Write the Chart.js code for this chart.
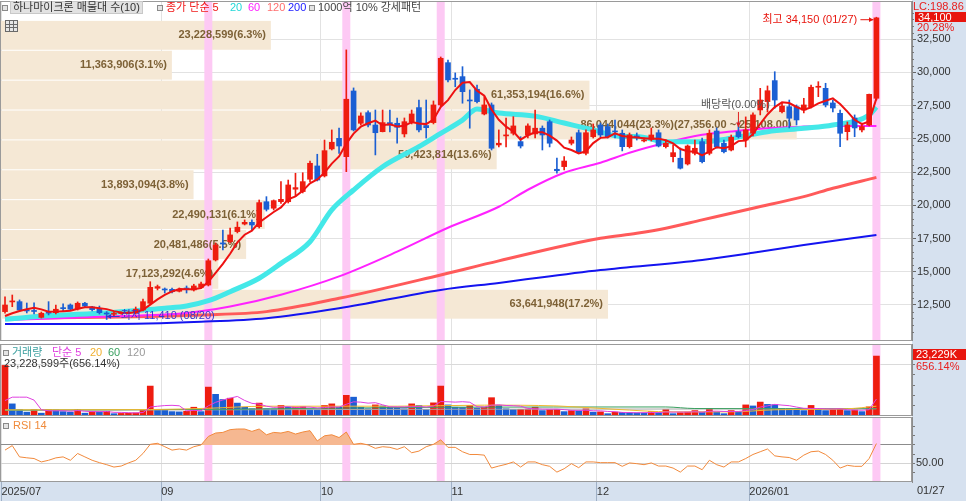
<!DOCTYPE html>
<html lang="ko">
<head>
<meta charset="utf-8">
<title>하나마이크론</title>
<script src="https://cdn.jsdelivr.net/npm/chart.js@4.4.1/dist/chart.umd.min.js"></script>
<style>
  html, body { margin: 0; padding: 0; }
  body { width: 966px; height: 501px; position: relative; overflow: hidden; background: #d6e1ef; }
  #plotbg { position: absolute; left: 0; top: 0; width: 912px; height: 482px; background: #fff; }
  canvas { position: absolute; left: 0; }
  .t { position: absolute; white-space: nowrap; font-size: 11px; line-height: 13px; font-family: 'Liberation Sans', 'Noto Sans CJK KR', sans-serif; color: #333; }
  .sq { position: absolute; width: 4px; height: 4px; border: 1px solid #8a8a8a; background: #e4e4e4; }
  .box { position: absolute; color: #fff; font-size: 11px; line-height: 10px; font-family: 'Liberation Sans', sans-serif; padding-left: 3px; }
  #tbl { position: absolute; left: 5px; top: 20px; width: 11px; height: 10px; border: 1px solid #6a6a6a;
         background: linear-gradient(#6a6a6a, #6a6a6a) 0 3px / 100% 1px no-repeat, linear-gradient(#6a6a6a, #6a6a6a) 0 6px / 100% 1px no-repeat,
                     linear-gradient(#6a6a6a, #6a6a6a) 3px 0 / 1px 100% no-repeat, linear-gradient(#6a6a6a, #6a6a6a) 7px 0 / 1px 100% no-repeat, #e6e6e6; }
</style>
</head>
<body>
<div id="plotbg"></div>
<canvas id="cPrice" width="966" height="340" style="top:1px"></canvas>
<canvas id="cVol" width="966" height="72" style="top:344px"></canvas>
<canvas id="cRsi" width="966" height="84" style="top:417px"></canvas>

<!-- legenda do painel de preço -->
<div class="sq" style="left:2px;top:5px"></div>
<div class="t" style="left:10px;top:1px;padding:0 2px;background:#e2e2e2;border:1px solid #c8c8c8;line-height:11px">하나마이크론 매물대 수(10)</div>
<div class="sq" style="left:157px;top:5px"></div>
<div class="t" style="left:166px;top:1px;color:#f01818">종가 단순 5</div>
<div class="t" style="left:230px;top:1px;color:#22d8d8">20</div>
<div class="t" style="left:248px;top:1px;color:#ff22ff">60</div>
<div class="t" style="left:267px;top:1px;color:#ff6e6e">120</div>
<div class="t" style="left:288px;top:1px;color:#2020ff">200</div>
<div class="sq" style="left:309px;top:5px"></div>
<div class="t" style="left:318px;top:1px;color:#444">1000억 10% 강세패턴</div>
<div id="tbl"></div>

<!-- legenda volume / rsi -->
<div class="sq" style="left:3px;top:350px"></div>
<div class="t" style="left:12px;top:346px;color:#3a9e9e">거래량</div>
<div class="t" style="left:52px;top:346px;color:#e040e0">단순 5</div>
<div class="t" style="left:90px;top:346px;color:#f0b030">20</div>
<div class="t" style="left:108px;top:346px;color:#3aa060">60</div>
<div class="t" style="left:127px;top:346px;color:#999">120</div>
<div class="t" id="volInfo" style="left:4px;top:357px;color:#333"></div>
<div class="sq" style="left:3px;top:423px"></div>
<div class="t" style="left:13px;top:419px;color:#f08a3a">RSI 14</div>

<!-- eixo direito -->
<div class="t" style="left:913px;top:0px;color:#e82020">LC:198.86</div>
<div class="box" id="lastBox" style="left:915px;width:48px;height:10px;background:#e8150e"></div>
<div class="t" id="lastPct" style="left:917px;color:#e82020"></div>
<div class="box" id="volBox" style="left:913px;top:349px;width:50px;height:11px;line-height:11px;background:#e8150e"></div>
<div class="t" id="volPct" style="left:916px;top:360px;color:#e82020"></div>
<div class="t" id="lastDate" style="left:917px;top:484px;color:#333"></div>

<script>
// ===== dados =====
const dates = [
  '2025/07/30','2025/07/31',
  '2025/08/01','2025/08/04','2025/08/05','2025/08/06','2025/08/07','2025/08/08','2025/08/11','2025/08/12','2025/08/13','2025/08/14',
  '2025/08/18','2025/08/19','2025/08/20','2025/08/21','2025/08/22','2025/08/25','2025/08/26','2025/08/27','2025/08/28','2025/08/29',
  '2025/09/01','2025/09/02','2025/09/03','2025/09/04','2025/09/05','2025/09/08','2025/09/09','2025/09/10','2025/09/11','2025/09/12',
  '2025/09/15','2025/09/16','2025/09/17','2025/09/18','2025/09/19','2025/09/22','2025/09/23','2025/09/24','2025/09/25','2025/09/26',
  '2025/09/29','2025/09/30',
  '2025/10/01','2025/10/02','2025/10/10','2025/10/13','2025/10/14','2025/10/15','2025/10/16','2025/10/17','2025/10/20','2025/10/21',
  '2025/10/22','2025/10/23','2025/10/24','2025/10/27','2025/10/28','2025/10/29','2025/10/30','2025/10/31',
  '2025/11/03','2025/11/04','2025/11/05','2025/11/06','2025/11/07','2025/11/10','2025/11/11','2025/11/12','2025/11/13','2025/11/14',
  '2025/11/17','2025/11/18','2025/11/19','2025/11/20','2025/11/21','2025/11/24','2025/11/25','2025/11/26','2025/11/27','2025/11/28',
  '2025/12/01','2025/12/02','2025/12/03','2025/12/04','2025/12/05','2025/12/08','2025/12/09','2025/12/10','2025/12/11','2025/12/12',
  '2025/12/15','2025/12/16','2025/12/17','2025/12/18','2025/12/19','2025/12/22','2025/12/23','2025/12/24','2025/12/26','2025/12/29',
  '2025/12/30',
  '2026/01/02','2026/01/05','2026/01/06','2026/01/07','2026/01/08','2026/01/09','2026/01/12','2026/01/13','2026/01/14','2026/01/15',
  '2026/01/16','2026/01/19','2026/01/20','2026/01/21','2026/01/22','2026/01/23','2026/01/26','2026/01/27'
];

const open = [
  12000,12730,12750,12120,12090,11570,12000,11920,12300,12500,
  12200,12630,12350,12180,11900,11800,11850,11880,11920,12120,
  12630,13760,13700,13680,13530,13760,13630,13830,14000,15890,
  17170,17260,18020,18590,18720,18390,20270,19780,20270,20270,
  21210,21030,21960,22960,22210,24240,25040,23660,28600,26170,
  26970,26040,25540,26220,26170,25370,26290,27350,26000,26220,
  27550,30730,29560,29680,27920,28730,26870,27550,24540,25220,
  25420,24790,25290,25370,25800,26290,22710,22910,24670,25460,
  23910,25160,26040,25920,25540,25420,24410,25220,24840,24970,
  25460,24410,23660,23540,23110,23910,24790,23910,25590,24670,
  24160,25540,24910,25420,27170,27800,29380,27040,27420,27420,
  27170,27420,28880,28800,27700,26920,25540,26570,25670,26040,
  28050
];
const high = [
  13120,13250,12880,12650,12670,11970,12750,12500,12580,12580,
  12730,12700,12400,12420,12000,11950,11980,12050,12350,12950,
  14250,14000,13780,13780,13780,13930,14060,14230,15960,17170,
  18140,18290,18750,18900,18900,20400,20650,20400,21780,21900,
  22410,22450,23330,23840,24910,25670,25800,31690,28830,26950,
  27100,27170,27170,27170,26570,26570,27170,27920,27920,27850,
  31160,30930,29960,30430,28680,29050,28170,27700,25670,26570,
  26670,25160,26120,27170,25970,26420,23560,23660,25140,25670,
  25670,26120,26190,26120,26420,25670,25440,25440,25060,25820,
  25670,24910,24540,24310,24540,24910,25060,25670,25820,24910,
  25290,26270,26650,26950,28800,28980,30050,27700,27920,27550,
  28050,29050,29300,29180,27920,27170,26270,26800,26190,28370,
  34150
];
const low = [
  11880,12370,12050,11900,11820,11520,11750,11820,12000,12120,
  12120,12350,12050,11820,11410,11700,11800,11850,11820,12050,
  12580,13630,13400,13400,13480,13400,13550,13780,13930,15810,
  16640,17170,17920,18520,18140,18290,19570,19650,20150,20170,
  20650,20930,21780,21830,22130,24160,23910,22530,25590,26040,
  25890,23790,25520,25520,24670,25140,26120,25520,25060,26120,
  27470,29280,28920,27680,25800,27700,26800,24160,24390,24390,
  25290,24310,25060,25060,24160,24390,22410,22660,24540,23940,
  23790,25060,25140,25060,25060,24090,24310,24910,24760,24840,
  24390,24310,23260,22730,23030,23790,23180,23790,24310,23940,
  24090,25060,24390,25220,26800,27020,27300,26950,25820,26040,
  26950,27320,28170,27400,27020,24410,24910,25160,25520,25970,
  27920
];
const close = [
  12500,12800,12120,12050,12010,11880,11880,12180,12220,12180,
  12630,12420,12150,11920,11820,11880,11900,11950,12180,12750,
  13830,13880,13630,13500,13680,13700,13930,14080,15830,17010,
  17090,17770,18350,18720,18520,20200,19700,20350,20450,21530,
  21330,21780,23160,21900,24110,24740,24460,27980,25670,26720,
  26040,25460,26220,26040,25870,26290,26870,25670,25840,27550,
  31060,29430,29480,28550,27850,27800,27550,24290,24670,25290,
  25970,24460,25970,25800,25290,24670,22600,23330,24910,24030,
  25460,25670,25290,25160,25520,24410,25290,25120,24910,25290,
  24460,24670,23960,22790,24460,24290,23280,25420,24410,24030,
  25120,25160,25670,26800,27920,28620,27920,27470,26550,26420,
  27550,28880,28930,27550,27320,25420,26040,25820,25920,28350,
  34100
];
const volume = [
  19600000,4700000,2500000,1500000,2500000,1100000,2500000,2400000,1700000,1500000,
  2500000,1100000,1700000,1600000,1800000,900000,1000000,1100000,1200000,2500000,
  11600000,2500000,2400000,1700000,1600000,1800000,3400000,1700000,11200000,8400000,
  6400000,6900000,5000000,3400000,2800000,5000000,2800000,2700000,4100000,3400000,
  3500000,3600000,2600000,2500000,4100000,4700000,3400000,8000000,7300000,3400000,
  2800000,4300000,3900000,3400000,3300000,2800000,4700000,4100000,2500000,5100000,
  11600000,4300000,3400000,3300000,4100000,3000000,3400000,7100000,4100000,2800000,
  2500000,2600000,2700000,3400000,2100000,2500000,2600000,1700000,2100000,2000000,
  2800000,1500000,1600000,900000,1500000,1400000,1300000,1200000,1100000,1700000,
  1300000,2500000,900000,1300000,1500000,2100000,1500000,2800000,1500000,900000,
  2100000,1500000,4300000,3900000,5400000,4500000,4400000,2900000,2800000,2700000,
  2100000,4100000,2800000,2100000,2500000,2600000,2100000,2300000,1700000,3540190,
  23228599
];
const rsi = [
  64.4,69.3,57.0,56.0,55.2,51.5,53.3,55.9,57.0,53.3,
  60.7,57.0,53.3,50.7,48.5,45.9,47.0,50.4,53.3,60.7,
  70.7,71.8,68.1,64.4,65.6,64.4,68.1,70.0,79.3,83.0,
  83.7,86.7,87.4,87.4,84.8,87.4,81.1,83.7,83.0,84.8,
  81.9,84.1,85.6,74.4,80.0,81.1,78.1,84.1,70.7,71.8,
  70.0,66.3,68.1,67.4,65.2,68.1,61.5,63.3,68.1,70.7,
  75.6,67.4,67.4,62.6,59.6,59.6,58.9,44.8,47.0,48.9,
  51.5,45.9,51.5,51.5,48.5,46.7,40.4,44.1,49.6,45.2,
  51.5,51.5,50.7,50.7,50.7,46.7,50.4,49.6,48.5,50.4,
  47.0,47.0,44.8,40.4,47.0,47.0,43.0,53.3,48.5,45.9,
  51.5,51.5,55.2,59.6,62.6,65.6,58.1,57.0,56.3,53.3,
  58.9,62.6,63.3,59.6,53.3,44.8,47.8,46.7,46.7,55.2,
  71.5
];

const ma5Head = [11670, 11880, 12050, 12180];
const ma20Idx = [0,4,13,19,22,25,28,31,35,38,42,45,48,52,57,60,63,65,68,73,77,81,85,87,91,96,100,105,110,114,119,120];
const ma20Val = [11420,11620,11870,12120,12250,12420,12820,13500,14510,15630,17260,19650,21150,22900,24410,25410,26410,27240,26940,26710,26190,25670,25170,25170,24790,24790,25040,25540,25790,26040,26790,27390];
const ma60Idx = [0,13,25,31,38,46,54,61,68,72,77,82,86,91,96,100,105,110,114,120];
const ma60Val = [11370,11620,11900,12380,13270,14650,16510,18310,19890,21170,22450,23200,23950,24700,25300,25550,25800,25920,25970,25970];
const ma120Idx = [0,13,27,36,46,60,68,82,87,91,96,103,110,114,120];
const ma120Val = [11500,11570,11750,12000,13000,14760,15820,17520,17890,18270,18900,19780,20650,21280,22100];
const ma200Idx = [0,14,27,36,46,60,68,82,96,103,110,120];
const ma200Val = [11070,11070,11240,11500,12250,13630,14160,15130,15890,16430,17010,17770];

const volMa5Head = [6000000, 7300000, 7300000, 7300000];
const volMa20Idx = [0,20,28,36,54,66,76,84,92,100,106,116,120];
const volMa20Val = [2400000,2500000,3000000,3800000,3800000,4200000,3900000,2600000,1600000,1600000,2400000,2800000,3800000];
const volMa60Idx = [0,30,60,91,95,120];
const volMa60Val = [2300000,2600000,3400000,3500000,2900000,2800000];
const volMa120Idx = [0,60,120];
const volMa120Val = [2200000,2600000,2800000];

// 매물대 (10 faixas)
const bandLow  = [11620,13868,16116,18364,20612,22860,25108,27356,29604,31852];
const bandHigh = [13868,16116,18364,20612,22860,25108,27356,29604,31852,34100];
const bandVol  = [63641948,17123292,20481486,22490131,13893094,50423814,86044044,61353194,11363906,23228599];
const bandPct  = [17.2,4.6,5.5,6.1,3.8,13.6,23.3,16.6,3.1,6.3];

const signalIdx = [28, 47, 60, 120];   // 강세패턴
const divIdx = 101;                    // 배당락
const priceTicks = [12500,15000,17500,20000,22500,25000,27500,30000,32500];
const volTicks = [4000000,8000000,12000000,16000000,20000000,24000000];
const rsiTicks = [40,50,60,70,80,90];

// ===== config =====
Chart.defaults.font.family = "'Liberation Sans', Arial, sans-serif";
Chart.defaults.font.size = 11;
Chart.defaults.color = '#333';

const UP = '#ee1c10', DOWN = '#1b5fd3';
const X_MIN = -0.69, X_MAX = 124.9;
const fmt = v => v.toLocaleString('en-US');
const avg = a => a.reduce((s, v) => s + v, 0) / a.length;
const sparse = (idx, val) => idx.map((x, k) => ({ x, y: val[k] }));
const baseLayout = { padding: 0, autoPadding: false };

// sem padding automático de rótulos: a área de plotagem ocupa o canvas todo
function noPad(s) { s.paddingTop = 0; s.paddingBottom = 0; s.paddingLeft = 0; s.paddingRight = 0; }

// ticks mensais (pula meses colados, como o 08)
const monthTicks = [];
dates.forEach((d, i) => {
  if (i > 0 && d.slice(0, 7) === dates[i - 1].slice(0, 7)) return;
  const prev = monthTicks[monthTicks.length - 1];
  if (prev !== undefined && i - prev < 8) return;
  monthTicks.push(i);
});
function monthLabel(v) {
  const i = Math.round(v + 0.5);
  const k = monthTicks.indexOf(i);
  if (k < 0) return '';
  const d = dates[i];
  if (k === 0 || d.slice(0, 4) !== dates[monthTicks[k - 1]].slice(0, 4)) return d.slice(0, 7);
  return d.slice(5, 7);
}

function xAxis(showLabels) {
  return {
    type: 'linear', min: X_MIN, max: X_MAX, offset: false,
    afterBuildTicks: s => { s.ticks = monthTicks.map(i => ({ value: i - 0.5 })); },
    afterFit: s => { s.height = showLabels ? 19 : 0; noPad(s); },
    grid: { offset: false, color: '#e2e2e2', drawTicks: showLabels, tickLength: 19, tickColor: '#9fb0c6' },
    border: { display: false },
    ticks: { display: showLabels, align: 'start', padding: -16, autoSkip: false, maxRotation: 0, color: '#333', callback: monthLabel }
  };
}

function drawArrow(c, x1, y1, x2, y2, color) {
  const a = Math.atan2(y2 - y1, x2 - x1);
  c.save();
  c.strokeStyle = color; c.fillStyle = color; c.lineWidth = 1;
  c.beginPath(); c.moveTo(x1, y1); c.lineTo(x2, y2); c.stroke();
  c.beginPath();
  c.moveTo(x2, y2);
  c.lineTo(x2 - 5 * Math.cos(a - 0.5), y2 - 5 * Math.sin(a - 0.5));
  c.lineTo(x2 - 5 * Math.cos(a + 0.5), y2 - 5 * Math.sin(a + 0.5));
  c.closePath(); c.fill();
  c.restore();
}

function drawSignals(chart) {
  const a = chart.chartArea, c = chart.ctx, xs = chart.scales.x;
  c.save();
  c.fillStyle = '#fdc9f4';
  signalIdx.forEach(i => c.fillRect(xs.getPixelForValue(i) - 4, a.top, 8, a.height));
  c.restore();
}

function panel(hooks) {
  return {
    id: 'panel',
    beforeDraw(chart) {
      const a = chart.chartArea, c = chart.ctx;
      c.save(); c.fillStyle = '#fff'; c.fillRect(a.left, a.top, a.width, a.height); c.restore();
    },
    beforeDatasetsDraw(chart) {
      if (hooks.under) hooks.under(chart);
      drawSignals(chart);
      if (hooks.over) hooks.over(chart);
    },
    afterDatasetsDraw(chart) { if (hooks.after) hooks.after(chart); },
    afterDraw(chart) {
      const a = chart.chartArea, c = chart.ctx;
      c.save(); c.strokeStyle = '#9a9a9a'; c.lineWidth = 1;
      c.strokeRect(Math.round(a.left) + 0.5, Math.round(a.top) + 0.5, Math.round(a.width) - 1, Math.round(a.height) - 1);
      if (hooks.end) hooks.end(chart);
      c.restore();
    }
  };
}

// ===== painel de preço =====
const candleColor = close.map((v, i) => v >= open[i] ? UP : DOWN);
const ma5 = close.map((v, i) => ({ x: i, y: i < 4 ? ma5Head[i] : avg(close.slice(i - 4, i + 1)) }));
const maxBand = bandVol.indexOf(Math.max(...bandVol));

function lineDs(data, color, width, order) {
  return { type: 'line', data, borderColor: color, borderWidth: width, pointRadius: 0, fill: false,
           cubicInterpolationMode: 'monotone', order, xAxisID: 'x', yAxisID: 'y' };
}

const pricePlugin = panel({
  under(chart) {
    const a = chart.chartArea, c = chart.ctx, ys = chart.scales.y, xv = chart.scales.xv;
    c.save();
    c.fillStyle = '#f5e8d5';
    bandLow.forEach((lo, k) => {
      const top = ys.getPixelForValue(bandHigh[k]) + 3;
      const bot = ys.getPixelForValue(lo) + 2;
      c.fillRect(a.left, top, xv.getPixelForValue(bandPct[k]) - a.left, bot - top);
    });
    c.restore();
  },
  over(chart) {
    const c = chart.ctx, ys = chart.scales.y, xv = chart.scales.xv;
    c.save();
    c.font = "bold 11px 'Liberation Sans', Arial, sans-serif";
    c.fillStyle = '#7d6136';
    c.textAlign = 'right'; c.textBaseline = 'middle';
    bandLow.forEach((lo, k) => {
      let txt = fmt(bandVol[k]) + '(' + bandPct[k].toFixed(1) + '%)';
      if (k === maxBand) {
        const f2 = v => v.toLocaleString('en-US', { minimumFractionDigits: 2 });
        txt += '(' + f2(bandHigh[k]) + ' ~ ' + f2(lo) + ')';
      }
      const yMid = (ys.getPixelForValue(bandHigh[k]) + ys.getPixelForValue(lo)) / 2 + 2.5;
      c.fillText(txt, xv.getPixelForValue(bandPct[k]) - 5, yMid);
    });
    c.restore();
  },
  after(chart) {
    const xs = chart.scales.x, ys = chart.scales.y, c = chart.ctx;
    const hi = high.indexOf(Math.max(...high)), lo = low.indexOf(Math.min(...low));
    const hx = xs.getPixelForValue(hi) - 3, hy = ys.getPixelForValue(high[hi]) + 2.5;
    drawArrow(c, hx - 13, hy, hx, hy, '#e8150e');
    const lx = xs.getPixelForValue(lo), ly = ys.getPixelForValue(low[lo]) - 3;
    drawArrow(c, lx + 13, ly, lx, ly, '#3535d0');
    const dx = xs.getPixelForValue(divIdx), dy = ys.getPixelForValue(high[divIdx]) + 5;
    drawArrow(c, dx, dy - 15, dx, dy, '#e02020');
  },
  end(chart) {
    const a = chart.chartArea, c = chart.ctx, ys = chart.scales.y;
    c.strokeStyle = '#777';
    c.beginPath();
    for (let v = 10000; v <= 35000; v += 500) {
      if (v % 2500 === 0) continue;
      const y = Math.round(ys.getPixelForValue(v)) + 0.5;
      c.moveTo(a.right, y); c.lineTo(a.right + 2, y);
    }
    c.stroke();
  }
});

const priceChart = new Chart(document.getElementById('cPrice'), {
  type: 'bar',
  data: {
    datasets: [
      lineDs(sparse(ma200Idx, ma200Val), '#1414f0', 2, 6),
      lineDs(sparse(ma120Idx, ma120Val), '#ff5a5a', 3, 5),
      lineDs(sparse(ma60Idx, ma60Val), '#ff22ff', 2, 4),
      lineDs(sparse(ma20Idx, ma20Val), '#44e8e8', 5, 3),
      { type: 'bar', data: low.map((v, i) => ({ x: i, y: [v, high[i]] })), backgroundColor: candleColor,
        barThickness: 1, grouped: false, order: 2, xAxisID: 'x', yAxisID: 'y' },
      { type: 'bar', data: open.map((v, i) => ({ x: i, y: [v, close[i]] })), backgroundColor: candleColor,
        barThickness: 5, minBarLength: 1, grouped: false, order: 1, xAxisID: 'x', yAxisID: 'y' },
      Object.assign(lineDs(ma5, '#ee1111', 2, 0), { cubicInterpolationMode: 'default', tension: 0 })
    ]
  },
  options: {
    responsive: false, animation: false, events: [],
    layout: baseLayout,
    plugins: { legend: { display: false }, tooltip: { enabled: false } },
    scales: {
      x: xAxis(false),
      xv: { type: 'linear', display: false, min: 0, max: 24.57 },
      y: {
        position: 'right', min: 9790, max: 35370,
        afterBuildTicks: s => { s.ticks = priceTicks.map(v => ({ value: v })); },
        afterFit: s => { s.width = 54; noPad(s); },
        grid: { color: '#e2e2e2', tickLength: 4, tickColor: '#666' },
        border: { color: '#8c8c8c' },
        ticks: { padding: 1, autoSkip: false, color: '#333', callback: v => fmt(v) }
      }
    }
  },
  plugins: [pricePlugin]
});

// ===== painel de volume =====
const volColor = volume.map((v, i) => i > 0 && v > volume[i - 1] ? UP : (i === 0 ? UP : DOWN));
const volMa5 = volume.map((v, i) => ({ x: i, y: i < 4 ? volMa5Head[i] : avg(volume.slice(i - 4, i + 1)) }));
function volLine(data, color) {
  return { type: 'line', data, borderColor: color, borderWidth: 1, pointRadius: 0, fill: false, cubicInterpolationMode: 'monotone' };
}
new Chart(document.getElementById('cVol'), {
  type: 'bar',
  data: {
    datasets: [
      Object.assign(volLine(volMa5, '#e040e0'), { order: 0, cubicInterpolationMode: 'default', tension: 0 }),
      Object.assign(volLine(sparse(volMa20Idx, volMa20Val), '#f0b830'), { order: 1 }),
      Object.assign(volLine(sparse(volMa60Idx, volMa60Val), '#3aa060'), { order: 2 }),
      Object.assign(volLine(sparse(volMa120Idx, volMa120Val), '#a8a8a8'), { order: 3 }),
      { type: 'bar', data: volume.map((v, i) => ({ x: i, y: v })), backgroundColor: volColor, barThickness: 6, order: 4 }
    ]
  },
  options: {
    responsive: false, animation: false, events: [],
    layout: baseLayout,
    plugins: { legend: { display: false }, tooltip: { enabled: false } },
    scales: {
      x: xAxis(false),
      y: {
        position: 'right', min: 0, max: 27900000,
        afterBuildTicks: s => { s.ticks = volTicks.map(v => ({ value: v })); },
        afterFit: s => { s.width = 54; noPad(s); },
        grid: { color: c => (c.tick && c.tick.value === 20000000) ? '#dadada' : 'rgba(0,0,0,0)', tickLength: 3, tickColor: '#777' },
        border: { color: '#8c8c8c' },
        ticks: { autoSkip: false, callback: () => '' }
      }
    }
  },
  plugins: [panel({})]
});

// ===== painel RSI =====
new Chart(document.getElementById('cRsi'), {
  type: 'line',
  data: {
    datasets: [{
      data: rsi.map((v, i) => ({ x: i, y: v })),
      borderColor: '#f28a3c', borderWidth: 1, pointRadius: 0, tension: 0,
      fill: { target: { value: 70 }, above: '#f6b891', below: 'rgba(0,0,0,0)' }
    }]
  },
  options: {
    responsive: false, animation: false, events: [],
    layout: baseLayout,
    plugins: { legend: { display: false }, tooltip: { enabled: false } },
    scales: {
      x: xAxis(true),
      y: {
        position: 'right', min: 29.6, max: 100.5,
        afterBuildTicks: s => { s.ticks = rsiTicks.map(v => ({ value: v })); },
        afterFit: s => { s.width = 54; noPad(s); },
        grid: { color: c => c.tick && c.tick.value === 70 ? '#8c8c8c' : (c.tick && c.tick.value === 50 ? '#d4d4d4' : 'rgba(0,0,0,0)'),
                tickLength: 3, tickColor: '#777' },
        border: { color: '#8c8c8c' },
        ticks: { padding: 1, autoSkip: false, color: '#333', callback: v => v === 50 ? v.toFixed(2) : '' }
      }
    }
  },
  plugins: [panel({})]
});

// ===== textos posicionados pela escala =====
function note(text, color, x, yMid, align) {
  const el = document.createElement('div');
  el.className = 't';
  el.textContent = text;
  el.style.color = color;
  document.body.appendChild(el);
  const w = el.offsetWidth;
  const left = align === 'right' ? x - w : align === 'center' ? x - w / 2 : x;
  el.style.left = left + 'px';
  el.style.top = (yMid - 7) + 'px';
}
const PX = priceChart.scales.x, PY = priceChart.scales.y, TOP = 1;
const hiIdx = high.indexOf(Math.max(...high));
const loIdx = low.indexOf(Math.min(...low));
const last = close.length - 1;
note('최고 ' + fmt(high[hiIdx]) + ' (' + dates[hiIdx].slice(5) + ')', '#e8150e',
     PX.getPixelForValue(hiIdx) - 19, PY.getPixelForValue(high[hiIdx]) + TOP + 2.5, 'right');
note('최저 ' + fmt(low[loIdx]) + ' (' + dates[loIdx].slice(5) + ')', '#3535d0',
     PX.getPixelForValue(loIdx) + 14, PY.getPixelForValue(low[loIdx]) + TOP - 3, 'left');
note('배당락(0.00%)', '#555', PX.getPixelForValue(divIdx) - 3,
     PY.getPixelForValue(high[divIdx]) + TOP - 17, 'center');

const lastY = PY.getPixelForValue(close[last]) + TOP;
const lastBox = document.getElementById('lastBox');
lastBox.textContent = fmt(close[last]);
lastBox.style.top = (lastY - 6) + 'px';
const lastPct = document.getElementById('lastPct');
lastPct.textContent = ((close[last] / close[last - 1] - 1) * 100).toFixed(2) + '%';
lastPct.style.top = (lastY + 3) + 'px';

const vPct = (volume[last] / volume[last - 1] * 100).toFixed(2);
document.getElementById('volBox').textContent = fmt(Math.round(volume[last] / 1000)) + 'K';
document.getElementById('volPct').textContent = vPct + '%';
document.getElementById('volInfo').textContent = fmt(volume[last]) + '주(' + vPct + '%)';
document.getElementById('lastDate').textContent = dates[last].slice(5);
</script>
</body>
</html>
